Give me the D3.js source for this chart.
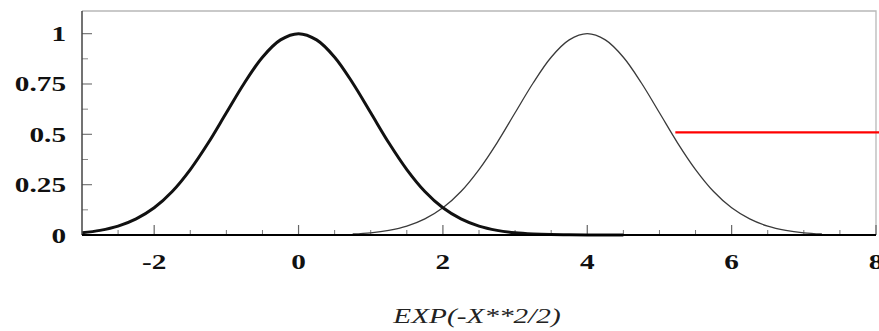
<!DOCTYPE html>
<html>
<head>
<meta charset="utf-8">
<script src="https://cdn.jsdelivr.net/npm/d3@7"></script>
<style>
  html, body { margin: 0; padding: 0; background: #fff; }
  svg { display: block; }
  text { font-family: "Liberation Serif", "DejaVu Serif", serif; }
</style>
</head>
<body>
<svg id="chart" width="879" height="331"></svg>
<script>
// Sample positions and values of the two bell curves
const xsCentered = [-3, -2.75, -2.5, -2.25, -2, -1.75, -1.5, -1.25, -1, -0.75, -0.5, -0.25, 0,
  0.25, 0.5, 0.75, 1, 1.25, 1.5, 1.75, 2, 2.25, 2.5, 2.75, 3, 3.25, 3.5, 3.75, 4, 4.25, 4.5];
const ysCentered = [0.011, 0.023, 0.044, 0.080, 0.135, 0.216, 0.325, 0.458, 0.607, 0.755, 0.883, 0.969, 1.000,
  0.969, 0.883, 0.755, 0.607, 0.458, 0.325, 0.216, 0.135, 0.080, 0.044, 0.023, 0.011, 0.005, 0.002, 0.001, 0.000, 0.000, 0.000];

const xsShifted = [0.75, 1, 1.25, 1.5, 1.75, 2, 2.25, 2.5, 2.75, 3, 3.25, 3.5, 3.75, 4,
  4.25, 4.5, 4.75, 5, 5.25, 5.5, 5.75, 6, 6.25, 6.5, 6.75, 7, 7.25];
const ysShifted = [0.005, 0.011, 0.023, 0.044, 0.080, 0.135, 0.216, 0.325, 0.458, 0.607, 0.755, 0.883, 0.969, 1.000,
  0.969, 0.883, 0.755, 0.607, 0.458, 0.325, 0.216, 0.135, 0.080, 0.044, 0.023, 0.011, 0.005];

// Horizontal marker segment
const markerLevel = [0.51];
const markerSpan = [5.22, 8.05];

// Axis ticks
const xMajorTicks = [-2, 0, 2, 4, 6, 8];
const xTickLabels = ["-2", "0", "2", "4", "6", "8"];
const yMajorTicks = [0, 0.25, 0.5, 0.75, 1];
const yTickLabels = ["0", "0.25", "0.5", "0.75", "1"];
const xTitle = "EXP(-X**2/2)";

const svg = d3.select("#chart");
const plotLeft = 82, plotRight = 876, plotTop = 11, plotBottom = 235;

const x = d3.scaleLinear().domain([-3, 8]).range([plotLeft, plotRight]);
const y = d3.scaleLinear().domain([0, 1.1125]).range([plotBottom, plotTop]);

// Plot frame: light top/right edges
svg.append("path")
  .attr("d", `M${plotLeft},${plotTop}H${plotRight}V${plotBottom}`)
  .attr("fill", "none").attr("stroke", "#b8b8b8").attr("stroke-width", 1.3);

// Minor ticks
const xMinor = d3.range(-3, 8.001, 0.5).filter(v => !xMajorTicks.includes(v) && v > -3 && v < 8);
const yMinor = d3.range(0.125, 1.1, 0.25);

svg.append("g").selectAll("line").data(xMinor).join("line")
  .attr("x1", d => x(d)).attr("x2", d => x(d))
  .attr("y1", plotBottom).attr("y2", plotBottom - 5)
  .attr("stroke", "#777").attr("stroke-width", 1);
svg.append("g").selectAll("line").data(xMajorTicks).join("line")
  .attr("x1", d => x(d)).attr("x2", d => x(d))
  .attr("y1", plotBottom).attr("y2", plotBottom - 10)
  .attr("stroke", "#666").attr("stroke-width", 1.2);

svg.append("g").selectAll("line").data(yMinor).join("line")
  .attr("x1", plotLeft).attr("x2", plotLeft + 6)
  .attr("y1", d => y(d)).attr("y2", d => y(d))
  .attr("stroke", "#888").attr("stroke-width", 1);
svg.append("g").selectAll("line").data(yMajorTicks.filter(v => v > 0)).join("line")
  .attr("x1", plotLeft).attr("x2", plotLeft + 10)
  .attr("y1", d => y(d)).attr("y2", d => y(d))
  .attr("stroke", "#777").attr("stroke-width", 1.2);

// Curves
const line = d3.line()
  .x(d => x(d[0])).y(d => y(d[1]))
  .curve(d3.curveCatmullRom.alpha(0.5));

svg.append("path")
  .datum(d3.zip(xsShifted, ysShifted))
  .attr("d", line)
  .attr("fill", "none").attr("stroke", "#3a3a3a").attr("stroke-width", 1.3);

svg.append("path")
  .datum(d3.zip(xsCentered, ysCentered))
  .attr("d", line)
  .attr("fill", "none").attr("stroke", "#111").attr("stroke-width", 3);

// Axis lines
svg.append("line")
  .attr("x1", plotLeft).attr("x2", plotLeft).attr("y1", plotTop).attr("y2", plotBottom)
  .attr("stroke", "#444").attr("stroke-width", 1.5);
svg.append("line")
  .attr("x1", plotLeft).attr("x2", plotRight).attr("y1", plotBottom).attr("y2", plotBottom)
  .attr("stroke", "#000").attr("stroke-width", 2);

// Red marker segment
svg.append("line")
  .attr("x1", x(markerSpan[0])).attr("x2", x(markerSpan[1]))
  .attr("y1", y(markerLevel[0])).attr("y2", y(markerLevel[0]))
  .attr("stroke", "#f00").attr("stroke-width", 2.2);

// Tick labels (wide serif lettering)
const stretch = 1.33;
svg.append("g").selectAll("text").data(xMajorTicks).join("text")
  .attr("transform", d => `translate(${x(d)},${plotBottom + 34}) scale(${stretch},1)`)
  .attr("text-anchor", "middle")
  .attr("font-size", 22).attr("font-weight", "bold").attr("fill", "#111")
  .text((d, i) => xTickLabels[i]);

svg.append("g").selectAll("text").data(yMajorTicks).join("text")
  .attr("transform", d => `translate(66,${y(d) + 7.5}) scale(${stretch},1)`)
  .attr("text-anchor", "end")
  .attr("font-size", 22).attr("font-weight", "bold").attr("fill", "#111")
  .text((d, i) => yTickLabels[i]);

// Axis title
svg.append("text")
  .attr("transform", `translate(477,323) scale(${stretch},1)`)
  .attr("text-anchor", "middle")
  .attr("font-size", 22).attr("font-style", "italic").attr("fill", "#222")
  .text(xTitle);
</script>
</body>
</html>
